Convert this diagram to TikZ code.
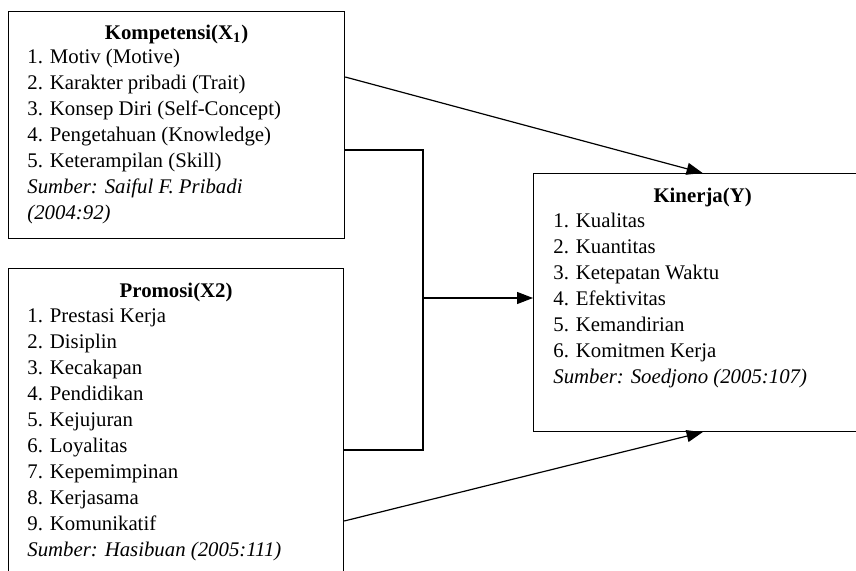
\documentclass[tikz,border=0pt]{standalone}
\usepackage{fontspec}
\setmainfont{Liberation Serif}
\usetikzlibrary{positioning,arrows.meta}

\begin{document}
\begin{tikzpicture}[x=0.5pt,y=-0.5pt,
    kotak/.style={draw, line width=0.6pt, rectangle, inner sep=0pt, anchor=north west},
    judul/.style={inner sep=0pt, font=\fontsize{10.4}{13}\selectfont\bfseries},
    daftar/.style={inner sep=0pt, align=left, font=\fontsize{10.4}{13}\selectfont},
    garis/.style={line width=0.6pt},
    panah/.style={line width=0.6pt, -{Triangle[length=8pt,width=6pt]}}]
  \clip (0,0) rectangle (856,571);

  % Kompetensi (X1)
  \node[kotak, minimum width=168pt, minimum height=113.5pt] (komp) at (8,11) {};
  \node[judul, below=7pt of komp.north] (kompJ) {Kompetensi(X\textsubscript{1})};
  \node[daftar, below right=19pt and 9.5pt of komp.north west] (kompD) {%
    1. Motiv (Motive)\\
    2. Karakter pribadi (Trait)\\
    3. Konsep Diri (Self-Concept)\\
    4. Pengetahuan (Knowledge)\\
    5. Keterampilan (Skill)\\
    \textit{Sumber: Saiful F. Pribadi}\\
    \textit{(2004:92)}};

  % Promosi (X2)
  \node[kotak, minimum width=167.5pt, minimum height=180pt] (prom) at (8,268) {};
  \node[judul, below=7.5pt of prom.north] (promJ) {Promosi(X2)};
  \node[daftar, below right=20pt and 9.5pt of prom.north west] (promD) {%
    1. Prestasi Kerja\\
    2. Disiplin\\
    3. Kecakapan\\
    4. Pendidikan\\
    5. Kejujuran\\
    6. Loyalitas\\
    7. Kepemimpinan\\
    8. Kerjasama\\
    9. Komunikatif\\
    \textit{Sumber: Hasibuan (2005:111)}};

  % Kinerja (Y)
  \node[kotak, minimum width=169pt, minimum height=129pt] (kin) at (533,173) {};
  \node[judul, below=7.5pt of kin.north] (kinJ) {Kinerja(Y)};
  \node[daftar, below right=20pt and 10pt of kin.north west] (kinD) {%
    1. Kualitas\\
    2. Kuantitas\\
    3. Ketepatan Waktu\\
    4. Efektivitas\\
    5. Kemandirian\\
    6. Komitmen Kerja\\
    \textit{Sumber: Soedjono (2005:107)}};

  % hubungan
  \coordinate (atas) at (423,150);
  \coordinate (bawah) at (423,450);
  \coordinate (tengah) at (423,298);
  \draw[garis] (komp.east |- atas) -- (atas) -- (bawah) -- (prom.east |- bawah);
  \draw[panah] (tengah) -- (kin.west |- tengah);
  \draw[panah] ([yshift=-33pt]komp.north east) -- (kin.north);
  \draw[panah] ([yshift=-126.5pt]prom.north east) -- (kin.south);
\end{tikzpicture}
\end{document}
